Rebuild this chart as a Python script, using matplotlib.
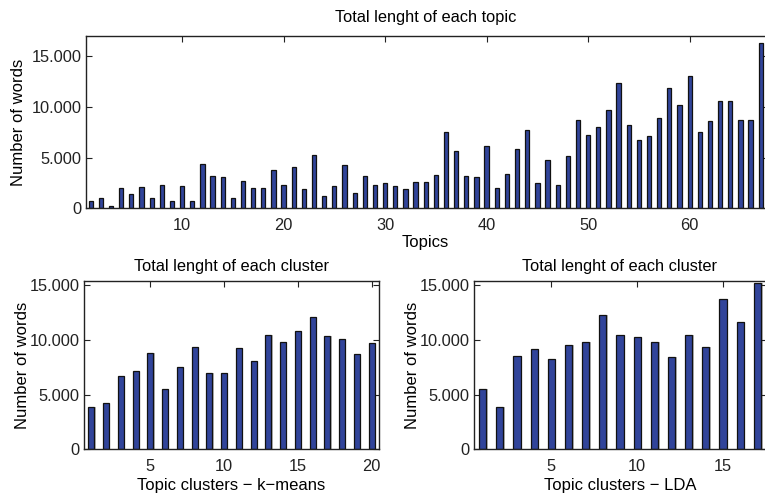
import matplotlib
matplotlib.use("Agg")
import matplotlib.pyplot as plt
from matplotlib.ticker import FuncFormatter
import numpy as np

# Word counts per topic (67 topics)
topic_words = [750, 980, 260, 1960, 1370, 2120, 980, 2350, 750, 2220,
               750, 4410, 3200, 3100, 980, 2710, 1960, 1960, 3820, 2350,
               4085, 1860, 5290, 1240, 2220, 4310, 1470, 3200, 2350, 2450,
               2220, 1860, 2580, 2610, 3330, 7520, 5650, 3200, 3100, 6140,
               1960, 3430, 5880, 7745, 2450, 4800, 2350, 5160, 8725, 7255,
               8000, 9700, 12320, 8235, 6765, 7125, 8855, 11895, 10195, 13040,
               7515, 8630, 10555, 10555, 8725, 8725, 16240]

# Word counts per cluster, k-means (20 clusters)
kmeans_words = [3840, 4210, 6710, 7165, 8780, 5490, 7500, 9330, 6950, 6950,
                9240, 8080, 10490, 9790, 10850, 12070, 10370, 10120, 8690, 9700]

# Word counts per cluster, LDA (17 clusters)
lda_words = [5490, 3840, 8540, 9210, 8230, 9570, 9790, 12320, 10490, 10240,
             9790, 8410, 10490, 9330, 13720, 11650, 15180]

topic_ticks = [10, 20, 30, 40, 50, 60]
kmeans_ticks = [5, 10, 15, 20]
lda_ticks = [5, 10, 15]
y_ticks = [0, 5000, 10000, 15000]

BAR = "#31449a"
FONT = "Liberation Sans"
plt.rcParams["font.family"] = [FONT, "DejaVu Sans"]


def thousands(v, pos):
    return "{:,.0f}".format(v).replace(",", ".")


def draw_bars(ax, values, width=0.4):
    x = np.arange(1, len(values) + 1)
    # faint grey shading on the right side of every bar
    ax.bar(x + 0.09, values, width=width, color="#b8b8b8", edgecolor="none", zorder=1)
    ax.bar(x, values, width=width, color=BAR, edgecolor="#111111", linewidth=0.9, zorder=2)


def style(ax, xticks, xmax, ymax):
    ax.set_xlim(0.5, xmax)
    ax.set_ylim(0, ymax)
    ax.set_xticks(xticks)
    ax.set_yticks(y_ticks)
    ax.yaxis.set_major_formatter(FuncFormatter(thousands))
    ax.tick_params(direction="in", length=4, width=0.8, top=True, right=True,
                   labelsize=11.8, colors="#222222", pad=3)
    ax.tick_params(axis="x", pad=7)
    for s in ax.spines.values():
        s.set_linewidth(1.0)
        s.set_color("#222222")


fig = plt.figure(figsize=(7.65, 4.95), dpi=100)

ax1 = fig.add_axes([0.112, 0.579, 0.889, 0.349])
draw_bars(ax1, topic_words, width=0.42)
style(ax1, topic_ticks, 67.5, 17000)
ax1.set_title("Total lenght of each topic", fontsize=11.8, pad=10)
ax1.set_xlabel("Topics", fontsize=12, labelpad=1)
ax1.set_ylabel("Number of words", fontsize=12, labelpad=4)

ax2 = fig.add_axes([0.1098, 0.0923, 0.3856, 0.3406])
draw_bars(ax2, kmeans_words)
style(ax2, kmeans_ticks, 20.5, 15430)
ax2.set_title("Total lenght of each cluster", fontsize=11.8, pad=7)
ax2.set_xlabel("Topic clusters \u2212 k\u2212means", fontsize=12, labelpad=3)
ax2.set_ylabel("Number of words", fontsize=12, labelpad=0)

ax3 = fig.add_axes([0.6196, 0.0923, 0.3817, 0.3406])
draw_bars(ax3, lda_words, width=0.42)
style(ax3, lda_ticks, 17.5, 15430)
ax3.set_title("Total lenght of each cluster", fontsize=11.8, pad=7)
ax3.set_xlabel("Topic clusters \u2212 LDA", fontsize=12, labelpad=3)
ax3.set_ylabel("Number of words", fontsize=12, labelpad=0)

fig.savefig("out.png", dpi=100)
